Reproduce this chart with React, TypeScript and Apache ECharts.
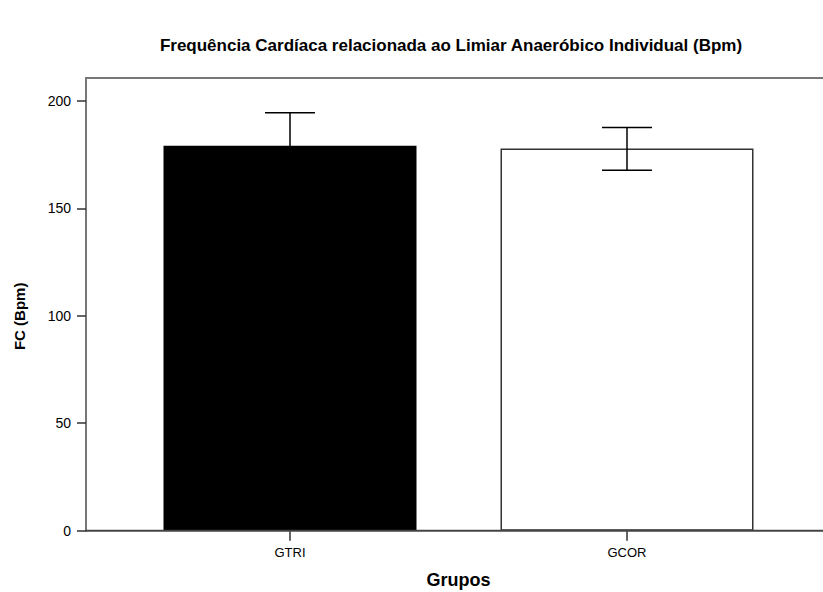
import React, { useEffect, useRef } from "react";
import * as echarts from "echarts";

const categories = ["GTRI", "GCOR"];
const means = [179.1, 177.8];
const errLow = [163.8, 167.7];
const errHigh = [194.4, 187.6];
const yTicks = [0, 50, 100, 150, 200];
const barColors = ["#000000", "#ffffff"];
const barBorders = ["#000000", "#333333"];

export default function App() {
  const ref = useRef<HTMLDivElement>(null);
  useEffect(() => {
    if (!ref.current) return;
    const chart = echarts.init(ref.current, null, { renderer: "svg" });
    chart.setOption({
      animation: false,
      backgroundColor: "#ffffff",
      title: {
        text: "Frequência Cardíaca relacionada ao Limiar Anaeróbico Individual (Bpm)",
        left: 446,
        top: 32,
        textAlign: "center",
        textStyle: { fontFamily: "Liberation Sans, Arial", fontSize: 17, fontWeight: "bold", color: "#000" },
      },
      grid: { left: 121.5, right: 27.5, top: 78, bottom: 61.3, outerBoundsMode: "none", containLabel: false },
      xAxis: {
        type: "category",
        data: categories,
        boundaryGap: true,
        axisLine: { show: false },
        axisTick: { show: true, alignWithLabel: true, length: 10, lineStyle: { color: "#333", width: 1.5 } },
        axisLabel: { margin: 15, fontFamily: "Liberation Sans, Arial", fontSize: 13, color: "#000" },
        name: "Grupos",
        nameLocation: "middle",
        nameGap: 40,
        nameTextStyle: { fontFamily: "Liberation Sans, Arial", fontSize: 18, fontWeight: "bold", color: "#000" },
        splitLine: { show: false },
      },
      yAxis: {
        type: "value",
        min: 0,
        max: 210.6,
        interval: 50,
        offset: 35.5,
        axisLine: { show: true, lineStyle: { color: "#777", width: 2 } },
        axisTick: { show: true, length: 9, customValues: yTicks, lineStyle: { color: "#333", width: 1.5 } },
        axisLabel: { margin: 15, customValues: yTicks, fontFamily: "Liberation Sans, Arial", fontSize: 14, color: "#000" },
        splitLine: { show: false },
        name: "FC (Bpm)",
        nameLocation: "middle",
        nameGap: 59,
        nameTextStyle: { fontFamily: "Liberation Sans, Arial", fontSize: 15, fontWeight: "bold", color: "#000", padding: [0, 24, 0, 0] },
      },
      graphic: [
        { type: "line", shape: { x1: 85, y1: 78, x2: 823, y2: 78 }, style: { stroke: "#777", lineWidth: 2 }, z: 10 },
        { type: "line", shape: { x1: 85, y1: 530.7, x2: 823, y2: 530.7 }, style: { stroke: "#444", lineWidth: 2 }, z: 10 },
      ],
      series: [
        {
          type: "bar",
          barWidth: 253,
          data: means.map((v, i) => ({
            value: v,
            itemStyle: { color: barColors[i], borderColor: barBorders[i], borderWidth: 1.5 },
          })),
          z: 2,
        },
        {
          type: "custom",
          z: 5,
          data: categories.map((_, i) => [i, errLow[i], errHigh[i]]),
          renderItem: (params: any, api: any) => {
            const top = api.coord([api.value(0), api.value(2)]);
            const bot = api.coord([api.value(0), api.value(1)]);
            const hw = 25;
            const style = { stroke: "#000", lineWidth: 1.5 };
            return {
              type: "group",
              children: [
                { type: "line", shape: { x1: top[0], y1: top[1], x2: bot[0], y2: bot[1] }, style },
                { type: "line", shape: { x1: top[0] - hw, y1: top[1], x2: top[0] + hw, y2: top[1] }, style },
                { type: "line", shape: { x1: bot[0] - hw, y1: bot[1], x2: bot[0] + hw, y2: bot[1] }, style },
              ],
            };
          },
        },
      ],
    });
    return () => chart.dispose();
  }, []);
  return <div ref={ref} style={{ position: "fixed", left: 0, top: 0, width: 823, height: 592 }} />;
}
